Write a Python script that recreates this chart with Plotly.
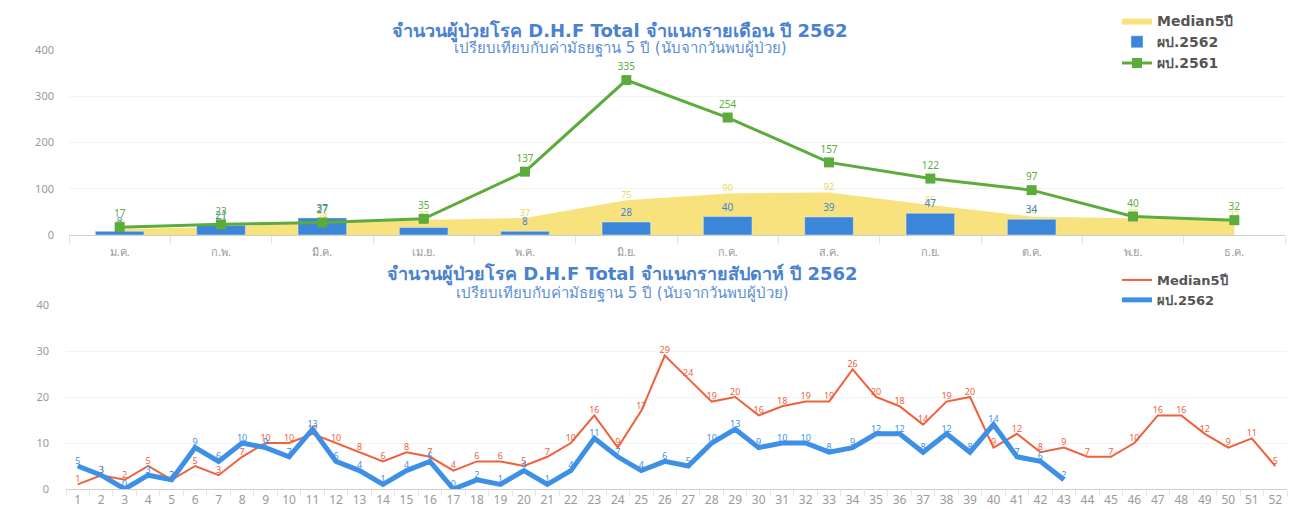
import plotly.graph_objects as go

# ---------------- data ----------------
months = ["ม.ค.", "ก.พ.", "มี.ค.", "เม.ย.", "พ.ค.", "มิ.ย.", "ก.ค.", "ส.ค.", "ก.ย.", "ต.ค.", "พ.ย.", "ธ.ค."]
median_month = [13, 17, 28, 32, 37, 75, 90, 92, 65, 40, 36, 32]
cases_2562_month = [8, 21, 37, 16, 8, 28, 40, 39, 47, 34, None, None]
cases_2561_month = [17, 23, 27, 35, 137, 335, 254, 157, 122, 97, 40, 32]

weeks = [str(i) for i in range(1, 53)]
median_week = [1, 3, 2, 5, 2, 5, 3, 7, 10, 10,
               12, 10, 8, 6, 8, 7, 4, 6, 6, 5,
               7, 10, 16, 9, 17, 29, 24, 19, 20, 16,
               18, 19, 19, 26, 20, 18, 14, 19, 20, 9,
               12, 8, 9, 7, 7, 10, 16, 16, 12, 9,
               11, 5]
cases_2562_week = [5, 3, 0, 3, 2, 9, 6, 10, 9, 7,
                   13, 6, 4, 1, 4, 6, 0, 2, 1, 4,
                   1, 4, 11, 7, 4, 6, 5, 10, 13, 9,
                   10, 10, 8, 9, 12, 12, 8, 12, 8, 14,
                   7, 6, 2]

title_top = "จำนวนผู้ป่วยโรค D.H.F Total จำแนกรายเดือน ปี 2562"
title_bottom = "จำนวนผู้ป่วยโรค D.H.F Total จำแนกรายสัปดาห์ ปี 2562"
subtitle = "เปรียบเทียบกับค่ามัธยฐาน 5 ปี (นับจากวันพบผู้ป่วย)"

# ---------------- style ----------------
FONT = "Noto Sans, DejaVu Sans, Liberation Sans, sans-serif"
TFONT = "DejaVu Sans, Noto Sans, sans-serif"
YELLOW = "#f8e27e"
BLUE = "#3b86d9"
GREEN = "#5cac3c"
RED = "#f0603c"
LBLUE = "#3d90e6"
TICK = "#9a9a9a"
GRID = "#f3f3f3"

W, H = 1295, 509


def px_x(p):
    return p / W


def px_y(p):
    return 1 - p / H


fig = go.Figure()

# top: median area (base axes, drawn beneath)
fig.add_trace(go.Scatter(
    x=months, y=median_month, name="Median5ปี", mode="lines+text",
    fill="tozeroy", fillcolor=YELLOW, line=dict(width=0, color=YELLOW),
    text=[str(v) for v in median_month], textposition="top center",
    textfont=dict(size=9, color="#f1d65a", family=FONT),
    xaxis="x", yaxis="y", legend="legend", cliponaxis=False,
))
# top: bars (overlay axes, drawn above area)
fig.add_trace(go.Bar(
    x=months, y=cases_2562_month, name="ผป.2562", marker=dict(color=BLUE),
    width=0.48,
    text=[("" if v is None else str(v)) for v in cases_2562_month],
    textposition="outside", textfont=dict(size=10, color=BLUE, family=FONT),
    xaxis="x3", yaxis="y3", legend="legend", cliponaxis=False,
))
fig.add_trace(go.Scatter(
    x=months, y=cases_2561_month, name="ผป.2561", mode="lines+markers+text",
    line=dict(color=GREEN, width=3),
    marker=dict(symbol="square", size=10, color=GREEN),
    text=[str(v) for v in cases_2561_month], textposition="top center",
    textfont=dict(size=10, color=GREEN, family=FONT),
    xaxis="x3", yaxis="y3", legend="legend", cliponaxis=False,
))

# bottom
fig.add_trace(go.Scatter(
    x=weeks, y=median_week, name="Median5ปี", mode="lines+text",
    line=dict(color=RED, width=2),
    text=[str(v) for v in median_week], textposition="top center",
    textfont=dict(size=9, color=RED, family=FONT),
    xaxis="x2", yaxis="y2", legend="legend2", cliponaxis=False,
))
fig.add_trace(go.Scatter(
    x=weeks[:len(cases_2562_week)], y=cases_2562_week, name="ผป.2562",
    mode="lines+text", line=dict(color=LBLUE, width=5),
    text=[str(v) for v in cases_2562_week], textposition="top center",
    textfont=dict(size=9, color=LBLUE, family=FONT),
    xaxis="x2", yaxis="y2", legend="legend2", cliponaxis=False,
))

top_xdom = [px_x(69), px_x(1285)]
top_ydom = [px_y(235), px_y(50)]
bot_xdom = [px_x(66), px_x(1287)]
bot_ydom = [px_y(489), px_y(305)]

fig.update_layout(
    width=W, height=H,
    margin=dict(l=0, r=0, t=0, b=0),
    paper_bgcolor="white", plot_bgcolor="white",
    font=dict(family=FONT),
    showlegend=True,
    xaxis=dict(domain=top_xdom, anchor="y", type="category",
               categoryorder="array", categoryarray=months,
               range=[-0.5, 11.5], showline=True, linecolor="#cfcfcf",
               ticks="outside", ticklen=8, tickcolor="#e2e2e2",
               tickson="boundaries", showgrid=False, zeroline=False,
               automargin=False, ticklabelstandoff=7,
               tickfont=dict(size=11, color=TICK, family=FONT)),
    yaxis=dict(domain=top_ydom, anchor="x", range=[0, 400], dtick=100,
               showgrid=True, gridcolor=GRID, zeroline=False,
               automargin=False, ticklabelstandoff=14,
               tickfont=dict(size=11, color=TICK, family=FONT)),
    xaxis3=dict(overlaying="x", anchor="y3", type="category",
                categoryorder="array", categoryarray=months,
                range=[-0.5, 11.5], visible=False),
    yaxis3=dict(overlaying="y", anchor="x3", range=[0, 400], visible=False),
    xaxis2=dict(domain=bot_xdom, anchor="y2", type="category",
                categoryorder="array", categoryarray=weeks,
                range=[-0.5, 51.5], showline=True, linecolor="#cfcfcf",
                ticks="outside", ticklen=6, tickcolor="#e6e6e6",
                tickson="boundaries", showgrid=False, zeroline=False,
                automargin=False,
                tickfont=dict(size=12, color=TICK, family=FONT)),
    yaxis2=dict(domain=bot_ydom, anchor="x2", range=[0, 40], dtick=10,
                showgrid=True, gridcolor=GRID, zeroline=False,
                automargin=False, ticklabelstandoff=16,
                tickfont=dict(size=11, color=TICK, family=FONT)),
    bargap=0.5,
    legend=dict(x=px_x(1117), y=px_y(5), xanchor="left", yanchor="top",
                bgcolor="rgba(0,0,0,0)", tracegroupgap=0, itemwidth=30,
                font=dict(size=14, color="#555555", family=TFONT, weight=700)),
    legend2=dict(x=px_x(1117), y=px_y(265), xanchor="left", yanchor="top",
                 bgcolor="rgba(0,0,0,0)", tracegroupgap=0, itemwidth=30,
                 font=dict(size=13, color="#555555", family=TFONT, weight=700)),
    annotations=[
        dict(text="<b>" + title_top + "</b>", x=px_x(620), y=px_y(18),
             xref="paper", yref="paper", showarrow=False,
             font=dict(size=18, color="#4a82d0", family=TFONT)),
        dict(text=subtitle, x=px_x(620), y=px_y(37),
             xref="paper", yref="paper", showarrow=False,
             font=dict(size=15, color="#5a8fd6", family=TFONT)),
        dict(text="<b>" + title_bottom + "</b>", x=px_x(622), y=px_y(274),
             xref="paper", yref="paper", showarrow=False,
             font=dict(size=18, color="#4a82d0", family=TFONT)),
        dict(text=subtitle, x=px_x(622), y=px_y(293),
             xref="paper", yref="paper", showarrow=False,
             font=dict(size=15, color="#5a8fd6", family=TFONT)),
    ],
)

fig.write_html("out.html",
               config={"displayModeBar": False},
               post_script="document.body.style.margin='0px';"
                           "document.body.style.overflow='hidden';")
